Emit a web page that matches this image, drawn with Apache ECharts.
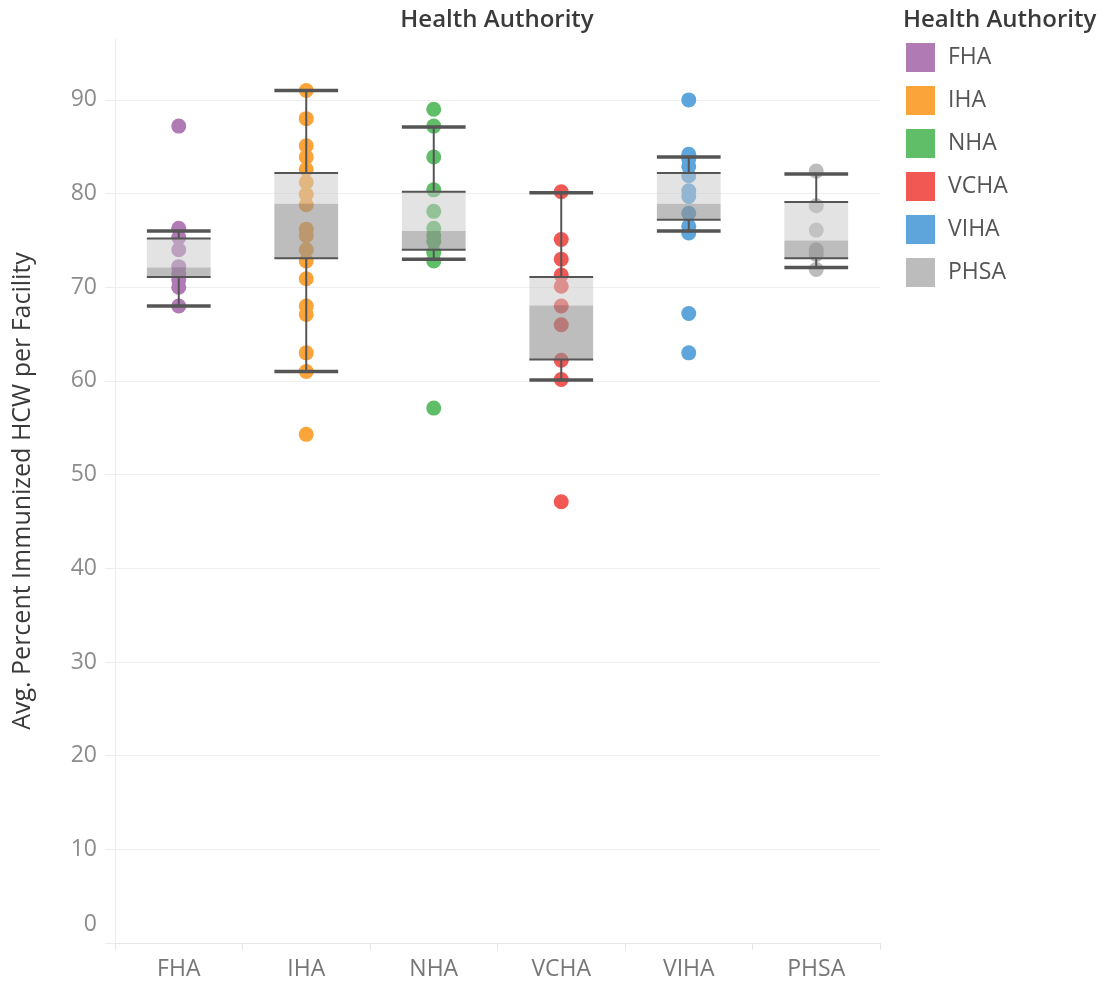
<!DOCTYPE html>
<html>
<head>
<meta charset="utf-8">
<script src="https://cdn.jsdelivr.net/npm/echarts@6/dist/echarts.min.js"></script>
<style>
html,body{margin:0;padding:0;background:#fff;}
#chart{width:1110px;height:985px;}
</style>
</head>
<body>
<div id="chart"></div>
<script>
// Categories
const categories = ['FHA', 'IHA', 'NHA', 'VCHA', 'VIHA', 'PHSA'];
const colors = ['#b07ab4', '#faa43a', '#60bd68', '#f15854', '#5da5da', '#bcbcbc'];

// Per-facility values
const fhaValues  = [87.2, 76.3, 75.3, 74.0, 72.2, 71.5, 70.8, 70.0, 68.0];
const ihaValues  = [91, 88, 85.1, 83.9, 82.6, 81.2, 79.9, 78.8, 76.2, 75.5, 74, 72.8, 70.9, 68, 67.1, 63, 61, 54.3];
const nhaValues  = [89, 87.2, 83.9, 80.4, 78.1, 76.3, 75.5, 74.9, 73.7, 72.8, 57.1];
const vchaValues = [80.2, 75.1, 73, 71.3, 70.1, 68, 66, 62.2, 60.15, 47.1];
const vihaValues = [90, 84.2, 83.7, 82.9, 81.9, 80.3, 79.7, 77.9, 76.5, 75.8, 67.2, 63];
const phsaValues = [82.4, 78.7, 76.1, 74, 73.5, 71.9];
const allValues = [fhaValues, ihaValues, nhaValues, vchaValues, vihaValues, phsaValues];

// Box plot statistics
const whiskerLow  = [68.0, 61.0, 73.0, 60.1, 76.0, 72.1];
const quartile1   = [71.1, 73.1, 74.0, 62.3, 77.2, 73.1];
const medians     = [72.1, 78.9, 76.0, 68.05, 78.9, 75.0];
const quartile3   = [75.2, 82.2, 80.2, 71.1, 82.2, 79.1];
const whiskerHigh = [76.0, 91.0, 87.1, 80.1, 83.9, 82.1];

// Y axis ticks
const yMin = 0, yMax = 96.5, yInterval = 10;

const chart = echarts.init(document.getElementById('chart'), null, {renderer: 'canvas'});

const FONT = '"Open Sans", "Noto Sans", sans-serif';

const scatterSeries = categories.map((c, i) => ({
  name: c,
  type: 'scatter',
  symbol: 'circle',
  symbolSize: 15,
  itemStyle: {color: colors[i], opacity: 1},
  data: allValues[i].map(v => [c, v]),
  z: 2,
  silent: true
}));

const boxData = categories.map((c, i) => [i, whiskerLow[i], quartile1[i], medians[i], quartile3[i], whiskerHigh[i]]);

const boxSeries = {
  type: 'custom',
  name: 'box',
  z: 5,
  silent: true,
  encode: {x: 0, y: [1, 2, 3, 4, 5]},
  data: boxData,
  renderItem: function (params, api) {
    const idx = api.value(0);
    const pLow = api.coord([idx, api.value(1)]);
    const pQ1 = api.coord([idx, api.value(2)]);
    const pMed = api.coord([idx, api.value(3)]);
    const pQ3 = api.coord([idx, api.value(4)]);
    const pHigh = api.coord([idx, api.value(5)]);
    const bw = api.size([1, 0])[0] * 0.5;
    const cx = pMed[0];
    const x0 = cx - bw / 2, x1 = cx + bw / 2;
    const lineCol = '#555555';
    return {
      type: 'group',
      children: [
        {type: 'rect', shape: {x: x0, y: pQ3[1], width: bw, height: pMed[1] - pQ3[1]},
          style: {fill: 'rgba(200,200,200,0.5)'}},
        {type: 'rect', shape: {x: x0, y: pMed[1], width: bw, height: pQ1[1] - pMed[1]},
          style: {fill: 'rgba(145,145,145,0.6)'}},
        {type: 'line', shape: {x1: cx, y1: pHigh[1], x2: cx, y2: pQ3[1]},
          style: {stroke: lineCol, lineWidth: 2}},
        {type: 'line', shape: {x1: cx, y1: pQ1[1], x2: cx, y2: pLow[1]},
          style: {stroke: lineCol, lineWidth: 2}},
        {type: 'line', shape: {x1: x0, y1: pQ3[1], x2: x1, y2: pQ3[1]},
          style: {stroke: lineCol, lineWidth: 2}},
        {type: 'line', shape: {x1: x0, y1: pQ1[1], x2: x1, y2: pQ1[1]},
          style: {stroke: lineCol, lineWidth: 2}},
        {type: 'line', shape: {x1: x0, y1: pHigh[1], x2: x1, y2: pHigh[1]},
          style: {stroke: lineCol, lineWidth: 3.5}},
        {type: 'line', shape: {x1: x0, y1: pLow[1], x2: x1, y2: pLow[1]},
          style: {stroke: lineCol, lineWidth: 3.5}}
      ]
    };
  }
};

const option = {
  animation: false,
  backgroundColor: '#ffffff',
  title: [
    {text: 'Health Authority', left: 497, top: 8, textAlign: 'center', padding: 0,
      textStyle: {fontFamily: FONT, fontSize: 24, fontWeight: 600, color: '#3a3a3a'}},
    {text: 'Health Authority', left: 903, top: 8, padding: 0,
      textStyle: {fontFamily: FONT, fontSize: 24, fontWeight: 600, color: '#3a3a3a'}}
  ],
  legend: {
    orient: 'vertical',
    left: 906,
    top: 43,
    padding: 0,
    icon: 'rect',
    itemWidth: 29,
    itemHeight: 29,
    itemGap: 14,
    data: categories,
    selectedMode: false,
    textStyle: {fontFamily: FONT, fontSize: 23, color: '#555555', padding: [0, 0, 0, 8]}
  },
  grid: {left: 115, right: 230, top: 39, bottom: 42, containLabel: false, outerBoundsMode: 'none'},
  xAxis: {
    type: 'category',
    data: categories,
    boundaryGap: true,
    axisLine: {show: true, lineStyle: {color: '#e6e6e6', width: 1}},
    axisTick: {show: true, length: 7, lineStyle: {color: '#e6e6e6'}},
    axisLabel: {fontFamily: FONT, fontSize: 23, color: '#777777', margin: 15},
    splitLine: {show: false}
  },
  yAxis: {
    type: 'value',
    min: yMin,
    max: yMax,
    interval: yInterval,
    name: 'Avg. Percent Immunized HCW per Facility',
    nameLocation: 'middle',
    nameGap: 80,
    nameTextStyle: {fontFamily: FONT, fontSize: 25, color: '#3a3a3a'},
    axisLine: {show: true, lineStyle: {color: '#ececec', width: 1}},
    axisTick: {show: true, length: 10, lineStyle: {color: '#ececec'}},
    axisLabel: {
      fontFamily: FONT, fontSize: 23, color: '#8c8c8c', margin: 18,
      showMaxLabel: false,
      formatter: function (v) { return v === 0 ? '{z|0}' : String(v); },
      rich: {z: {fontFamily: FONT, fontSize: 23, color: '#8c8c8c', padding: [0, 0, 38, 0]}}
    },
    splitLine: {show: true, showMinLine: false, showMaxLine: false, lineStyle: {color: '#efefef', width: 1}}
  },
  series: scatterSeries.concat([boxSeries])
};

chart.setOption(option);
</script>
</body>
</html>
